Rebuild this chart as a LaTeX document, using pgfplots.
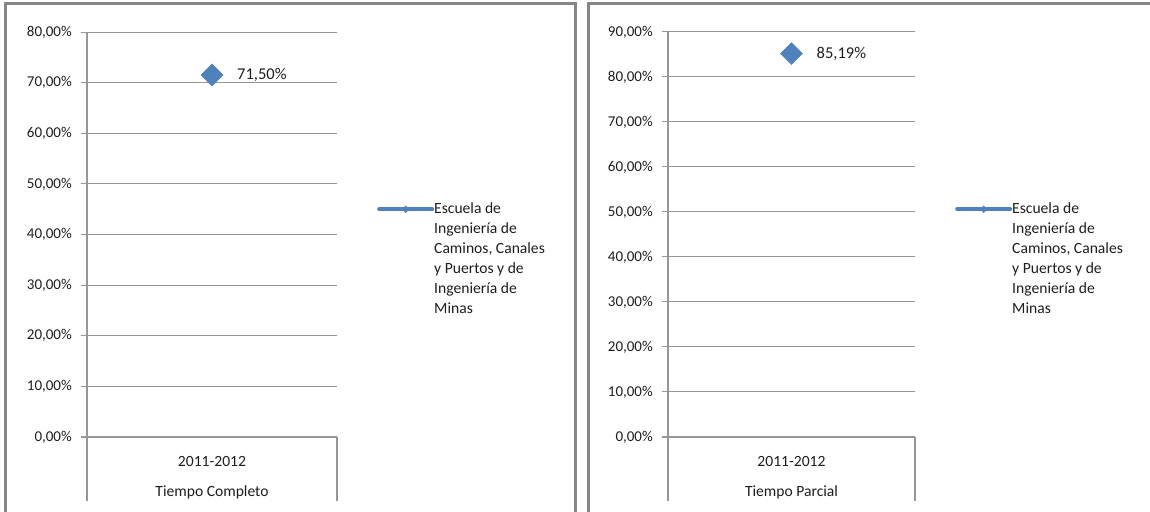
\documentclass[border=0pt]{standalone}
\usepackage{fontspec}
\setmainfont{Carlito}
\usepackage{pgfplots}
\pgfplotsset{compat=1.18}
\definecolor{ser}{HTML}{4F81BD}
\definecolor{gridc}{RGB}{150,150,150}
\definecolor{framec}{RGB}{134,134,134}
\definecolor{txt}{RGB}{30,30,30}
\newcommand{\tfont}{\fontsize{15}{17}\selectfont}
\newcommand{\lfont}{\fontsize{15.6}{18}\selectfont}
\newcommand{\dfont}{\fontsize{16.5}{19}\selectfont}
\pgfplotsset{excelstyle/.style={
  scale only axis, clip=false,
  xmin=-0.5, xmax=0.5, ymin=0,
  axis line style={draw=none},
  ymajorgrids, grid style={gridc, line width=1pt},
  ytick pos=left, tick align=outside, major tick length=6pt,
  ytick style={gridc, line width=1pt},
  xtick={0}, xtick style={draw=none},
  /pgf/number format/assume math mode=true,
  yticklabel style={inner sep=0pt, xshift=-9pt, font=\tfont, text=txt},
  xticklabel style={anchor=base, inner sep=0pt, yshift=-23pt, font=\lfont, text=txt},
  xlabel style={at={(axis description cs:0.5,0)}, anchor=base, inner sep=0pt, yshift=-59pt, font=\lfont, text=txt},
  legend style={draw=none, fill=none, anchor=north west, inner sep=0pt,
    nodes={inner sep=0pt}, font=\lfont, text=txt,
    /tikz/every even column/.append style={column sep=3pt}},
  legend cell align=left,
}}
\pgfplotsset{
  excelmark/.style={only marks, mark=square*, mark size=7.8pt,
    mark options={rotate=45, fill=ser, draw=ser},
    point meta=y,
    nodes near coords={\pgfmathprintnumber[fixed,fixed zerofill,precision=2,use comma]{\pgfplotspointmeta}\%},
    nodes near coords style={anchor=west, xshift=25pt, inner sep=0pt, font=\dfont, text=txt},
    legend image code/.code={
      \draw[ser, line width=4pt, line cap=round] (0pt,0pt) -- (53pt,0pt);
      \fill[ser] (26.5pt,3.5pt) -- (29.5pt,0pt) -- (26.5pt,-3.5pt) -- (23.5pt,0pt) -- cycle;}
  }
}
\newcommand{\legtext}{\parbox[t]{140pt}{\raggedright\fontsize{15.6}{19.9}\selectfont Escuela de\\Ingeniería de\\Caminos, Canales\\y Puertos y de\\Ingeniería de\\Minas}}
\begin{document}
\begin{tikzpicture}[x=1pt,y=1pt]
\useasboundingbox (0pt,0pt) rectangle (1150pt,511pt);
\clip (0pt,0pt) rectangle (1150pt,511pt);
\fill[white] (0pt,0pt) rectangle (1150pt,511pt);
\draw[framec, line width=3pt] (5pt,-20pt) -- (5pt,507pt) -- (575pt,507pt) -- (575pt,-20pt);
\draw[framec, line width=3pt] (588pt,-20pt) -- (588pt,507pt) -- (1170pt,507pt);
\begin{axis}[name=ax1, excelstyle, at={(87pt,74pt)}, anchor=south west, width=250pt, height=405pt,
  ymax=80, ytick={0,10,...,80},
  yticklabels={{0,00\%},{10,00\%},{20,00\%},{30,00\%},{40,00\%},{50,00\%},{60,00\%},{70,00\%},{80,00\%}},
  xticklabels={2011-2012}, xlabel={Tiempo Completo},
  legend style={at={(1.16,0.578)}}]
\addplot[excelmark] coordinates {(0,71.50)};
\addlegendentry{\legtext}
\end{axis}
\draw[gridc, line width=1.1pt] (ax1.north west) -- ([yshift=-64pt]ax1.south west);
\draw[gridc, line width=1.1pt] (ax1.south east) -- ([yshift=-64pt]ax1.south east);
\begin{axis}[name=ax2, excelstyle, at={(668pt,74pt)}, anchor=south west, width=247pt, height=405pt,
  ymax=90, ytick={0,10,...,90},
  yticklabels={{0,00\%},{10,00\%},{20,00\%},{30,00\%},{40,00\%},{50,00\%},{60,00\%},{70,00\%},{80,00\%},{90,00\%}},
  xticklabels={2011-2012}, xlabel={Tiempo Parcial},
  legend style={at={(1.162,0.578)}}]
\addplot[excelmark] coordinates {(0,85.19)};
\addlegendentry{\legtext}
\end{axis}
\draw[gridc, line width=1.1pt] (ax2.north west) -- ([yshift=-64pt]ax2.south west);
\draw[gridc, line width=1.1pt] (ax2.south east) -- ([yshift=-64pt]ax2.south east);
\end{tikzpicture}
\end{document}
